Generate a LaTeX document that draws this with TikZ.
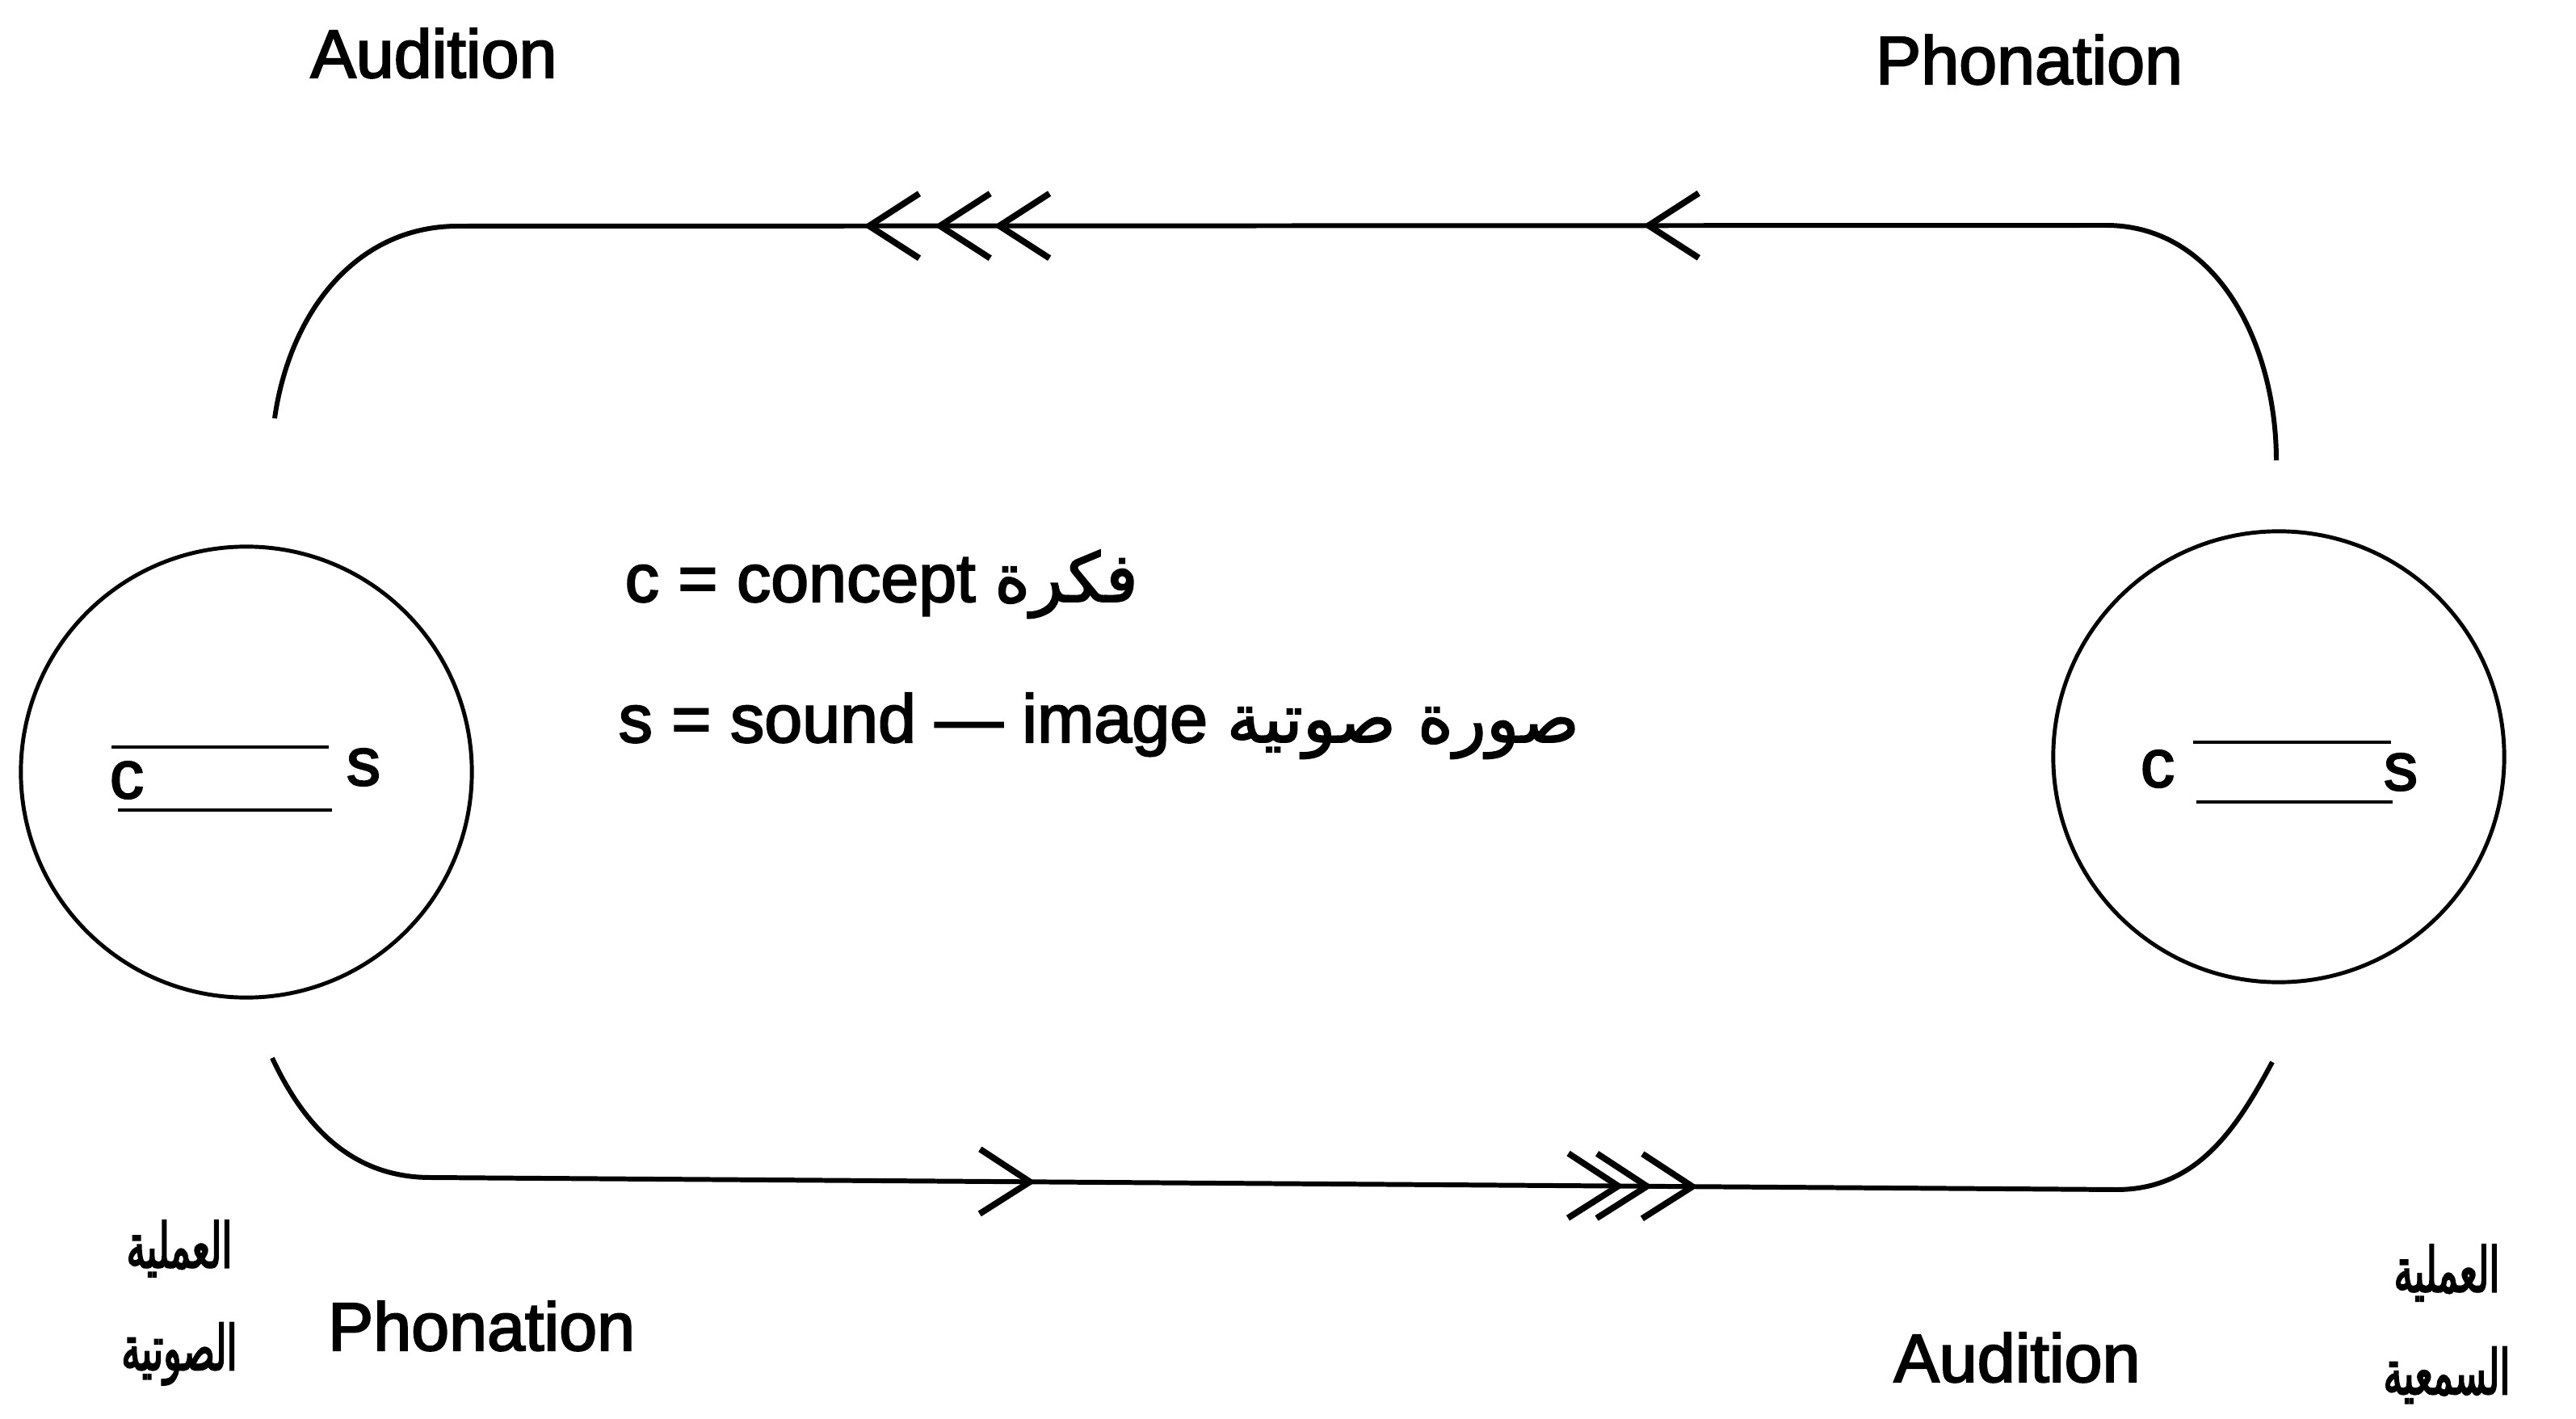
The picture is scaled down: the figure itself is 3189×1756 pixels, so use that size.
\documentclass[tikz,border=0pt]{standalone}
\usepackage{fontspec}
\setmainfont[FakeBold=2.5]{Liberation Sans}
\newfontfamily\arabicfont[Script=Arabic,FakeBold=2]{DejaVu Sans}
\newfontfamily\arabicnarrow[Script=Arabic,FakeBold=2.5,FakeStretch=0.6]{DejaVu Sans}
\TeXXeTstate=1
\usetikzlibrary{arrows.meta,decorations.markings,positioning}
\tikzset{>=stealth,
	person/.style={% the two speakers
		draw,
		shape=circle,
		line width=1.4pt,
		minimum size=5.58cm,
		inner sep=0pt
	},
	txt/.style={
		inner sep=0pt,
		font=\fontsize{24}{29}\selectfont
	},
	artxt/.style={
		inner sep=0pt,
		font=\arabicnarrow\fontsize{22}{26}\selectfont
	},
	circuit/.style={line width=1.7pt},
	bar/.style={line width=1.2pt},
	barb/.tip={Straight Barb[length=0.62cm,width=0.8cm,line width=2.2pt]}
}
\newcommand*{\arab}[1]{{\arabicfont\beginR #1\endR}}
\newcommand*{\arabn}[1]{{\arabicnarrow\beginR #1\endR}}

\begin{document}
\begin{tikzpicture}[x=0.01cm,y=0.01cm]
		\useasboundingbox (0,0) rectangle (3189,1756);
		
		\node (A) [person] at (305,800) {};
		\node (B) [person] at (2821,819) {};
		
		\node (cA) [txt] at (157,790) {c};
		\node (sA) [txt] at (450,806) {s};
		\draw[bar] (138,831) -- (407,831) (146,753) -- (411,753);
		
		\node (cB) [txt] at (2671,804) {c};
		\node (sB) [txt] at (2972,800) {s};
		\draw[bar] (2715,837) -- (2960,837) (2719,763) -- (2962,763);
		
		\coordinate (Btop) at (2818,1186);
		\coordinate (Bup) at (2607,1477);
		\coordinate (Aup) at (567,1476);
		\coordinate (Atop) at (340,1238);
		\coordinate (Abot) at (337,446);
		\coordinate (Adown) at (533,298);
		\coordinate (Bdown) at (2620,283);
		\coordinate (Bbot) at (2813,441);
		
		% Circuit B -> A above, A -> B below.
		\draw[circuit] (Btop) to[out=90,in=0] (Bup) -- (Aup) to[out=180,in=82] (Atop);
		\draw[circuit] (Abot) to[out=-65,in=180] (Adown) -- (Bdown) to[out=0,in=-118] (Bbot);
		\path[postaction={decorate}, decoration={markings,
			mark=at position 0.281 with {\arrow{barb}},
			mark=at position 0.675 with {\arrow{barb}},
			mark=at position 0.711 with {\arrow{barb}},
			mark=at position 0.754 with {\arrow{barb}}}] (Bup) -- (Aup);
		\path[postaction={decorate}, decoration={markings,
			mark=at position 0.359 with {\arrow{barb}},
			mark=at position 0.708 with {\arrow{barb}},
			mark=at position 0.725 with {\arrow{barb}},
			mark=at position 0.752 with {\arrow{barb}}}] (Adown) -- (Bdown);
		
		\node (audA) [txt, anchor=base] at (537,1660) {Audition};
		\node (phonB) [txt, anchor=base] at (2512,1652) {Phonation};
		\node (phonA) [txt, anchor=base] at (596,84) {Phonation};
		\node (audB) [txt, anchor=base] at (2497,45) {Audition};
		
		\node (cdef) [txt, anchor=base west] at (773,1011) {c = concept \arab{فكرة}};
		\node (sdef) [txt, anchor=base west] at (765,837) {s = sound — image \arab{صورة صوتية}};
		
		\node (procA) [artxt] at (222,210) {\arabn{العملية}};
		\node (phonProc) [artxt, below=0.55cm of procA] {\arabn{الصوتية}};
		\node (procB) [artxt] at (3029,180) {\arabn{العملية}};
		\node (audProc) [artxt, below=0.55cm of procB] {\arabn{السمعية}};
	\end{tikzpicture}
\end{document}
